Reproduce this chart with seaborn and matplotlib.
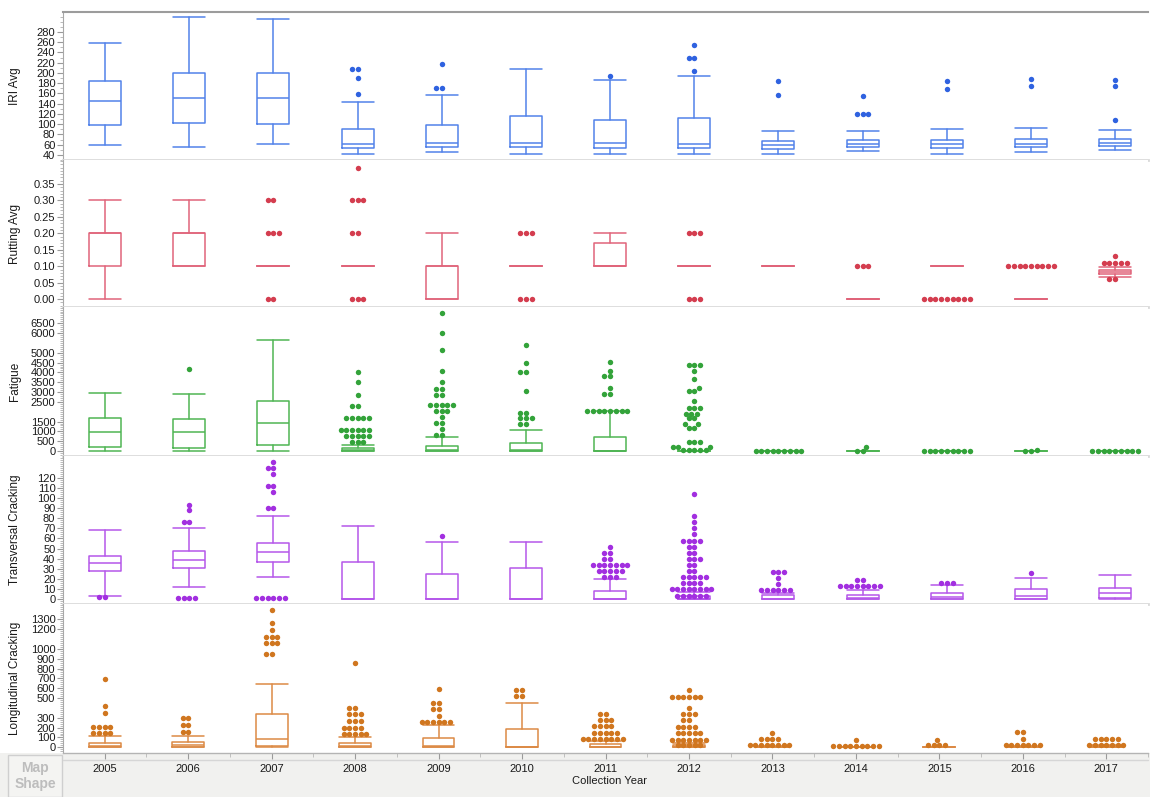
import numpy as np
import pandas as pd
import matplotlib
matplotlib.use('Agg')
import matplotlib.pyplot as plt
import seaborn as sns
from matplotlib.patches import Rectangle
from matplotlib.ticker import FixedLocator, MultipleLocator, FormatStrFormatter

sns.set_style('white')
plt.rcParams['font.family'] = ['Liberation Sans', 'DejaVu Sans']

years = list(range(2005, 2018))

# box stats per year: whisker low, q1, median, q3, whisker high
iri_box = [
    [59.5, 98, 145, 184, 258], [55.6, 101.8, 150.6, 199, 309], [61.5, 99.9, 150.6, 199, 305],
    [42, 53, 61.5, 90, 142.8], [45.2, 55.6, 62.8, 98, 156.4], [42.6, 55.6, 62.8, 115.5, 207],
    [42.6, 53, 62.8, 107.7, 185.7], [42, 53, 60.8, 111.6, 193.5], [41.4, 52.3, 58.9, 66.7, 86.2],
    [47.2, 55, 61.5, 68.7, 86.2], [42.6, 53, 60.8, 68.7, 90], [46.5, 55, 62.2, 70.6, 92.7],
    [49.2, 57, 64, 70.6, 88.8],
]
# outliers: year -> (value, number of dots)
iri_out = {
    2008: [(208, 2), (190, 1), (158, 1)],
    2009: [(218, 1), (171, 2)],
    2011: [(194, 1)],
    2012: [(255, 1), (230, 2), (203, 1)],
    2013: [(185, 1), (156, 1)],
    2014: [(155, 1), (120, 3)],
    2015: [(184, 1), (169, 1)],
    2016: [(189, 1), (175, 1)],
    2017: [(186, 1), (174, 1), (108, 1)],
}

rut_box = [
    [0, 0.1, 0.2, 0.2, 0.3], [0.1, 0.1, 0.2, 0.2, 0.3], [0.1, 0.1, 0.1, 0.1, 0.1],
    [0.1, 0.1, 0.1, 0.1, 0.1], [0, 0, 0.1, 0.1, 0.2], [0.1, 0.1, 0.1, 0.1, 0.1],
    [0.1, 0.1, 0.1, 0.17, 0.2], [0.1, 0.1, 0.1, 0.1, 0.1], [0.1, 0.1, 0.1, 0.1, 0.1],
    [0, 0, 0, 0, 0], [0.1, 0.1, 0.1, 0.1, 0.1], [0, 0, 0, 0, 0],
    [0.068, 0.077, 0.083, 0.089, 0.098],
]
rut_out = {
    2007: [(0.3, 2), (0.2, 3), (0.0, 2)],
    2008: [(0.4, 1), (0.3, 3), (0.2, 2), (0.0, 3)],
    2010: [(0.2, 3), (0.0, 3)],
    2012: [(0.2, 3), (0.0, 3)],
    2014: [(0.1, 3)],
    2015: [(0.0, 9)],
    2016: [(0.1, 9)],
    2017: [(0.13, 1), (0.11, 5), (0.06, 2)],
}

fat_box = [
    [0, 204, 950, 1695, 2967], [0, 136, 984, 1611, 2917], [0, 288, 1408, 2528, 5666],
    [0, 0, 40, 136, 288], [0, 0, 40, 270, 696], [0, 0, 40, 424, 1052],
    [0, 0, 0, 729, 2019], [0, 0, 0, 0, 0], [0, 0, 0, 0, 0],
    [0, 0, 0, 0, 0], [0, 0, 0, 0, 0], [0, 0, 0, 0, 0], [0, 0, 0, 0, 0],
]
fat_out = {
    2006: [(4157, 1)],
    2008: [(4020, 1), (3495, 1), (2833, 1), (2273, 2), (1662, 5), (1069, 6), (763, 5), (441, 3)],
    2009: [(7023, 1), (6022, 1), (5124, 1), (4054, 1), (3528, 1), (3138, 2), (2833, 2), (2341, 5),
           (2036, 3), (1713, 1), (1425, 2), (1120, 1), (814, 2)],
    2010: [(5378, 1), (4478, 1), (4037, 2), (3038, 1), (1951, 2), (1662, 3), (1357, 2)],
    2011: [(4512, 1), (4088, 1), (3800, 2), (3223, 1), (2917, 2), (2019, 8)],
    2012: [(4377, 3), (4054, 1), (3664, 1), (3190, 1), (3070, 2), (2561, 1), (2172, 3), (1900, 3),
           (1662, 2), (1374, 2), (1153, 2), (441, 3), (220, 3), (51, 5)],
    2013: [(0, 9)],
    2014: [(220, 1), (0, 2)],
    2015: [(0, 9)],
    2016: [(60, 1), (0, 2)],
    2017: [(0, 9)],
}

tra_box = [
    [3, 27.5, 35.4, 43, 68.2], [11.6, 30.5, 38.4, 47.3, 70.8], [21.5, 37.1, 46.3, 55.9, 82.7],
    [0, 0, 0, 36.7, 72.8], [0, 0, 0, 24.5, 56.3], [0, 0, 0, 30.5, 56.3],
    [0, 0, 0, 7.6, 19.9], [0, 0, 0, 3, 7], [0, 0, 0.5, 4.4, 6],
    [0, 0, 1, 4.4, 8.6], [0, 0, 2, 5.7, 13.6], [0, 0, 3.4, 9.9, 20.8],
    [0, 0.7, 6, 10.9, 23.5],
]
tra_out = {
    2005: [(2, 2)],
    2006: [(93.6, 1), (87.7, 1), (76.4, 2), (1, 4)],
    2007: [(135.6, 1), (129.7, 2), (123.7, 1), (111.8, 2), (105.9, 1), (89.7, 2), (1, 6)],
    2009: [(62.5, 1)],
    2011: [(51.3, 1), (45.6, 2), (39.7, 2), (33.4, 7), (27.5, 5), (21.5, 3)],
    2012: [(104.5, 1), (82.3, 1), (76.4, 1), (70.5, 1), (64.5, 1), (57.6, 4), (51.6, 2), (45.6, 2),
           (39.7, 3), (33.7, 2), (27.8, 2), (21.8, 5), (15.9, 4), (9.9, 8), (3.4, 6)],
    2013: [(27.2, 3), (21.2, 1), (15.3, 1), (9.3, 6)],
    2014: [(19.2, 2), (13.3, 8)],
    2015: [(15.9, 3)],
    2016: [(26.2, 1)],
}

lon_box = [
    [0, 0, 16, 47, 118], [0, 0, 20, 57, 118], [0, 16, 87, 341, 646],
    [0, 0, 10, 41, 108], [0, 0, 10, 91, 230], [0, 0, 5, 183, 453],
    [0, 0, 5, 34, 60], [0, 0, 5, 20, 40], [0, 0, 2, 8, 15],
    [0, 0, 0, 3, 8], [0, 0, 0, 2, 5], [0, 0, 2, 8, 15], [0, 0, 3, 10, 20],
]
lon_out = {
    2005: [(694, 1), (416, 1), (352, 1), (209, 4), (150, 4)],
    2006: [(294, 2), (226, 2), (159, 2)],
    2007: [(1398, 1), (1266, 1), (1188, 1), (1120, 3), (1059, 3), (951, 2)],
    2008: [(856, 1), (402, 2), (341, 3), (270, 3), (199, 4), (135, 5)],
    2009: [(595, 1), (450, 2), (386, 2), (318, 1), (254, 6)],
    2010: [(582, 2), (518, 2)],
    2011: [(341, 2), (277, 3), (213, 4), (148, 5), (87, 8)],
    2012: [(582, 1), (514, 6), (399, 1), (338, 3), (274, 2), (209, 4), (142, 5), (77, 7), (20, 5)],
    2013: [(148, 1), (87, 4), (26, 8)],
    2014: [(77, 1), (16, 9)],
    2015: [(77, 1), (26, 4)],
    2016: [(158, 2), (87, 1), (20, 7)],
    2017: [(87, 5), (26, 7)],
}

iri_ticks = list(range(40, 281, 20))
rut_ticks = [0, 0.05, 0.10, 0.15, 0.20, 0.25, 0.30, 0.35]
fat_ticks = [0, 500, 1000, 1500, 2500, 3000, 3500, 4000, 4500, 5000, 6000, 6500]
tra_ticks = list(range(0, 121, 10))
lon_ticks = [0, 100, 200, 300, 500, 600, 700, 800, 900, 1000, 1200, 1300]

panels = [
    ('IRI Avg', iri_box, iri_out, iri_ticks, (30, 319), 10, '%d', '#5282ea', '#2f62e0'),
    ('Rutting Avg', rut_box, rut_out, rut_ticks, (-0.024, 0.423), 0.01, '%.2f', '#e0647a', '#d43d4f'),
    ('Fatigue', fat_box, fat_out, fat_ticks, (-254, 7330), 100, '%d', '#4fb554', '#33a33a'),
    ('Transversal Cracking', tra_box, tra_out, tra_ticks, (-4.8, 141.6), 2, '%d', '#b557ea', '#a22fe0'),
    ('Longitudinal Cracking', lon_box, lon_out, lon_ticks, (-58, 1455), 20, '%d', '#dc8a45', '#d0761f'),
]

W, H = 1150, 797
left, right = 63, 1148
edges = [12, 160, 307, 456, 604, 753]

fig = plt.figure(figsize=(W / 100, H / 100), dpi=100)

# grey footer with the x axis labels and the "Map Shape" box
fig.add_artist(Rectangle((0, 0), 1, (H - edges[-1]) / H, transform=fig.transFigure,
                         facecolor='#f1f1ef', edgecolor='none', zorder=0))
fig.add_artist(Rectangle((8 / W, 0), 54 / W, (H - 755) / H, transform=fig.transFigure,
                         facecolor='#f4f4f2', edgecolor='#cfcfcf', lw=1, zorder=1))
fig.text(35 / W, 1 - 776 / H, 'Map\nShape', ha='center', va='center', fontsize=10,
         fontweight='bold', color='#bdbdbd', linespacing=1.25)
fig.add_artist(plt.Line2D([left / W, right / W], [1 - 760 / H] * 2, transform=fig.transFigure,
                          color='#d6d6d6', lw=1))

for i, (label, box, outs, ticks, ylim, minor, fmt, linec, dotc) in enumerate(panels):
    top, bot = edges[i], edges[i + 1]
    ax = fig.add_axes([left / W, 1 - bot / H, (right - left) / W, (bot - top) / H])

    rows = []
    for yr, pts in outs.items():
        for v, n in pts:
            rows += [(years.index(yr), v)] * n
    df = pd.DataFrame(rows, columns=['pos', 'value'])

    sns.swarmplot(data=df, x='pos', y='value', order=list(range(len(years))), color=dotc,
                  size=3.9, linewidth=0, ax=ax, zorder=3, warn_thresh=1)

    stats = [dict(whislo=b[0], q1=b[1], med=b[2], q3=b[3], whishi=b[4]) for b in box]
    props = dict(color=linec, linewidth=1.1)
    ax.bxp(stats, positions=range(len(years)), widths=0.38, capwidths=0.38, showfliers=False,
           manage_ticks=False, boxprops=props, whiskerprops=props, capprops=props,
           medianprops=props)

    ax.set_xlim(-0.5, 12.39)
    ax.set_ylim(*ylim)
    ax.yaxis.set_major_locator(FixedLocator(ticks))
    ax.yaxis.set_minor_locator(MultipleLocator(minor))
    ax.yaxis.set_major_formatter(FormatStrFormatter(fmt))
    ax.tick_params(axis='y', which='major', length=4, width=0.8, color='#9a9a9a', pad=1.5,
                   labelsize=8, labelcolor='#1a1a1a', left=True)
    ax.tick_params(axis='y', which='minor', length=2, width=0.6, color='#b0b0b0', left=True)
    ax.set_ylabel(label, fontsize=8.5, color='#1a1a1a')
    ax.yaxis.set_label_coords(-0.039, 0.5)

    ax.spines['right'].set_visible(False)
    ax.spines['left'].set_color('#a8a8a8')
    ax.spines['bottom'].set_color('#dadada')
    ax.spines['bottom'].set_linewidth(2)
    if i == 0:
        ax.spines['top'].set_color('#9c9c9c')
        ax.spines['top'].set_linewidth(1.5)
    else:
        ax.spines['top'].set_visible(False)

    if i < len(panels) - 1:
        ax.set_xticks([])
        ax.set_xlabel('')
    else:
        ax.spines['bottom'].set_color('#b4b4b4')
        ax.spines['bottom'].set_linewidth(1)
        ax.set_xticks(range(len(years)))
        ax.set_xticklabels([str(y) for y in years])
        ax.set_xticks(np.arange(len(years)) + 0.5, minor=True)
        ax.tick_params(axis='x', which='major', length=4, color='#9a9a9a', pad=4,
                       labelsize=8, labelcolor='#1a1a1a', bottom=True)
        ax.tick_params(axis='x', which='minor', length=3, color='#b8b8b8', bottom=True)
        ax.set_xlabel('')

fig.text(610 / W, 1 - 781 / H, 'Collection Year', ha='center', va='center', fontsize=8,
         color='#1a1a1a')

fig.savefig('out.png', dpi=100)
